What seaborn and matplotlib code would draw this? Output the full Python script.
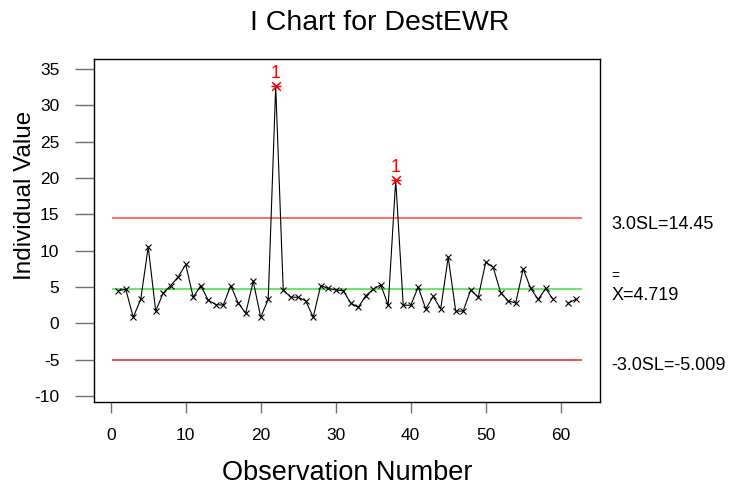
import numpy as np
import pandas as pd
import matplotlib
matplotlib.use("Agg")
import matplotlib.pyplot as plt
import seaborn as sns
from matplotlib.transforms import blended_transform_factory, ScaledTranslation

# ---- data ----
observation = list(range(1, 63))
individual_value = [4.5, 4.7, 0.85, 3.3, 10.5, 1.7, 4.2, 5.2, 6.4, 8.1,
                    3.6, 5.2, 3.2, 2.6, 2.5, 5.2, 2.8, 1.4, 5.8, 0.85,
                    3.3, 32.6, 4.6, 3.6, 3.6, 3.1, 0.85, 5.2, 4.8, 4.6,
                    4.5, 2.8, 2.2, 3.8, 4.7, 5.3, 2.5, 19.7, 2.5, 2.5,
                    5.0, 2.0, 3.7, 2.0, 9.1, 1.7, 1.7, 4.6, 3.6, 8.4,
                    7.7, 4.2, 3.1, 2.8, 7.5, 4.8, 3.3, 4.8, 3.3, np.nan, 2.8, 3.3]
ucl = 14.45
center = 4.719
lcl = -5.009
ucl_label = "3.0SL=14.45"
center_label = "X=4.719"
lcl_label = "-3.0SL=-5.009"
x_ticks = [0, 10, 20, 30, 40, 50, 60]
y_ticks = [-10, -5, 0, 5, 10, 15, 20, 25, 30, 35]

sns.set_theme(style="white")
plt.rcParams["font.family"] = ["Liberation Sans", "DejaVu Sans"]
plt.rcParams["axes.unicode_minus"] = False
plt.rcParams["text.color"] = "black"
plt.rcParams["xtick.color"] = "black"
plt.rcParams["ytick.color"] = "black"

df = pd.DataFrame({"obs": observation, "value": individual_value})
df["seg"] = df["value"].isna().cumsum()
df_plot = df.dropna()

fig = plt.figure(figsize=(7.5, 4.88), dpi=100)
ax = fig.add_axes([94 / 750, 1 - 402 / 488, 506 / 750, (402 - 59.3) / 488])

# control lines
ax.hlines(ucl, 0.2, 62.9, colors="#ff4646", linewidth=1.1)
ax.hlines(center, 0.2, 62.9, colors="#3fe03f", linewidth=1.1)
ax.hlines(lcl, 0.2, 62.9, colors="#d82424", linewidth=1.1)

sns.lineplot(data=df_plot, x="obs", y="value", units="seg", estimator=None,
             color="black", linewidth=0.8, marker="x", markersize=5,
             markeredgecolor="black", markeredgewidth=0.8, ax=ax)

ooc = df_plot[df_plot["value"] > ucl]
sns.scatterplot(data=ooc, x="obs", y="value", marker="x", color="red",
                s=40, linewidth=1.0, ax=ax, zorder=5)
sns.scatterplot(data=ooc, x="obs", y="value", marker="_", color="red",
                s=60, linewidth=1.0, ax=ax, zorder=5)
for xv, yv in zip(ooc["obs"], ooc["value"]):
    ax.annotate("1", (xv, yv), xytext=(0, 3), textcoords="offset points",
                ha="center", va="bottom", color="red", fontsize=13)

ax.set_xlim(-2.23, 65.24)
ax.set_ylim(-10.8, 36.3)
ax.set_xticks(x_ticks)
ax.set_yticks(y_ticks)
ax.set_xlabel("")
ax.set_ylabel("")
ax.tick_params(axis="y", length=14, width=1, color="#707070", pad=11,
               labelsize=12.5, left=True, labelcolor="black")
ax.tick_params(axis="x", length=8, width=1, color="#707070", pad=11,
               labelsize=12.5, bottom=True, labelcolor="black")
for sp in ax.spines.values():
    sp.set_color("black")
    sp.set_linewidth(1)
    sp.set_visible(True)

# right-hand labels
tr = blended_transform_factory(ax.transAxes, ax.transData)
down = ScaledTranslation(0, -6 / 100, fig.dpi_scale_trans)
up = ScaledTranslation(0, 13 / 100, fig.dpi_scale_trans)
ax.text(1.023, ucl, ucl_label, transform=tr + down, va="center", ha="left",
        fontsize=13, clip_on=False)
ax.text(1.023, center, center_label, transform=tr + down, va="center", ha="left",
        fontsize=13, clip_on=False)
ax.text(1.023, center, "=", transform=tr + up, va="center", ha="left",
        fontsize=10, clip_on=False)
ax.text(1.023, lcl, lcl_label, transform=tr + down, va="center", ha="left",
        fontsize=13, clip_on=False)

fig.text(380 / 750, 1 - 23.5 / 488, "I Chart for DestEWR", ha="center",
         va="center", fontsize=20.5)
fig.text(347 / 750, 1 - 473 / 488, "Observation Number", ha="center",
         va="center", fontsize=19.5)
fig.text(25 / 750, 1 - 195 / 488, "Individual Value", ha="center",
         va="center", rotation=90, fontsize=17.5)

fig.savefig("out.png", dpi=100)
